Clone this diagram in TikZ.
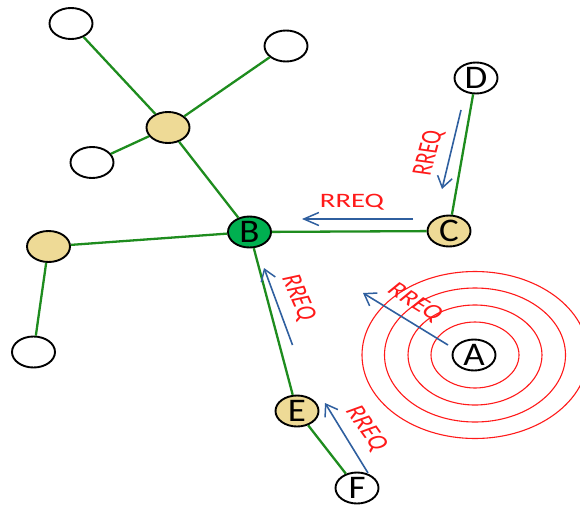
\documentclass[tikz,border=0pt]{standalone}
\usepackage{fontspec}
\usepackage{graphicx}
\setmainfont{Carlito}
\usetikzlibrary{shapes.geometric,arrows.meta}
\definecolor{edgegreen}{HTML}{1E8C1E}
\definecolor{bgreen}{HTML}{00B050}
\definecolor{sand}{HTML}{EEDA96}
\definecolor{msgblue}{HTML}{2F5F9F}
\definecolor{rred}{HTML}{FF1A1A}
\newcommand\rreqlab[1]{\scalebox{1.4}[1]{\rotatebox{#1}{RREQ}}}
\tikzset{
  nd/.style={ellipse, draw=black, line width=1.9pt, minimum width=43pt, minimum height=31pt, inner sep=0pt, fill=white,
    font=\fontsize{33}{33}\selectfont},
  yel/.style={nd, fill=sand},
  grn/.style={nd, fill=bgreen},
  link/.style={draw=edgegreen, line width=2.3pt},
  msg/.style={draw=msgblue, line width=1.6pt, -{Straight Barb[length=11pt,width=15pt,line width=1.5pt]}},
  lab/.style={text=rred, inner sep=0pt, font=\fontsize{20.5}{20.5}\selectfont},
  wave/.style={draw=rred, line width=1.1pt}
}
\newcommand\ltr[1]{\scalebox{1.12}[1]{#1}}
\begin{document}
\begin{tikzpicture}[x=1pt,y=-1pt]
\useasboundingbox (0,0) rectangle (580,506);
\clip (0,0) rectangle (580,506);
% waves around A
\draw[wave] (475,355) ellipse [x radius=44, y radius=33];
\draw[wave] (475,355) ellipse [x radius=67, y radius=50];
\draw[wave] (475,355) ellipse [x radius=90.5, y radius=67];
\draw[wave] (475,355) ellipse [x radius=113, y radius=83.5];
% nodes
\node[nd]  (n1)  at (71,23.5) {};
\node[nd]  (n2)  at (286,46) {};
\node[yel] (hub) at (168,127.5) {};
\node[nd]  (n3)  at (92,162.5) {};
\node[grn] (B)   at (249.5,232) {\ltr{B}};
\node[yel] (L)   at (48.5,246.5) {};
\node[nd]  (BL)  at (33.5,352) {};
\node[yel] (C)   at (449,231) {\ltr{C}};
\node[nd]  (D)   at (476,78) {\ltr{D}};
\node[yel] (E)   at (297,411) {\ltr{E}};
\node[nd]  (F)   at (357,488) {\ltr{F}};
\node[nd]  (A)   at (474,355) {\ltr{A}};
% links
\path[link] (hub) -- (n1);
\path[link] (hub) -- (n2);
\path[link] (hub) -- (n3);
\path[link] (hub) -- (B);
\path[link] (B) -- (L);
\path[link] (L) -- (BL);
\path[link] (B) -- (C);
\path[link] (C) -- (D);
\path[link] (B) -- (E);
\path[link] (E) -- (F);
% message arrows
\coordinate (dcT) at (461,110);  \coordinate (dcH) at (442,189);
\coordinate (cbT) at (413,219);  \coordinate (cbH) at (302,219);
\coordinate (ebT) at (292.5,345); \coordinate (ebH) at (264,268);
\coordinate (aT)  at (448,345);  \coordinate (aH)  at (363,293);
\coordinate (fT)  at (368,473);  \coordinate (fH)  at (325,403);
\draw[msg] (dcT) -- (dcH);
\draw[msg, -{Straight Barb[length=15pt,width=13pt,line width=1.5pt]}] (cbT) -- (cbH);
\draw[msg] (ebT) -- (ebH);
\draw[msg] (aT) -- (aH);
\draw[msg] (fT) -- (fH);
% labels
\node[lab] (lcb) at (352,202) {\rreqlab{0}};
\node[lab] (ldc) at (429,153) {\rreqlab{79}};
\node[lab] (leb) at (298,298) {\rreqlab{-73}};
\node[lab] (la)  at (415,303) {\rreqlab{-41}};
\node[lab] (lf)  at (366,428.5) {\rreqlab{-63}};
\end{tikzpicture}
\end{document}
